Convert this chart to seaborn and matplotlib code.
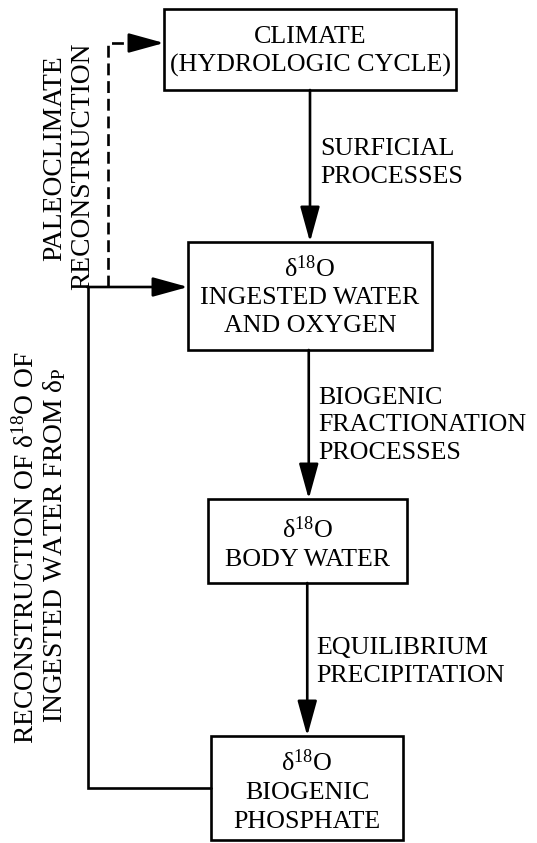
"""Flow diagram of oxygen isotope pathways into biogenic phosphate."""

import matplotlib
matplotlib.use("Agg")
import matplotlib.pyplot as plt
import seaborn as sns
from matplotlib.patches import Rectangle

sns.set_theme(style="white")
plt.rcParams["font.family"] = ["Liberation Serif", "DejaVu Serif"]
plt.rcParams["mathtext.fontset"] = "custom"
plt.rcParams["mathtext.rm"] = "Liberation Serif"
plt.rcParams["mathtext.it"] = "Liberation Serif:italic"

# --- diagram content ---
box_labels = [
    ["CLIMATE", "(HYDROLOGIC CYCLE)"],
    ["δ$^{18}$O", "INGESTED WATER", "AND OXYGEN"],
    ["δ$^{18}$O", "BODY WATER"],
    ["δ$^{18}$O", "BIOGENIC", "PHOSPHATE"],
]
step_labels = [
    ["SURFICIAL", "PROCESSES"],
    ["BIOGENIC", "FRACTIONATION", "PROCESSES"],
    ["EQUILIBRIUM", "PRECIPITATION"],
]
paleo_label = ["PALEOCLIMATE", "RECONSTRUCTION"]
recon_label = ["RECONSTRUCTION OF δ$^{18}$O OF", "INGESTED WATER FROM δ$_{\\mathrm{P}}$"]

# --- layout (pixel coordinates, y downwards) ---
box_left = [164, 188, 208, 211]
box_right = [456, 432, 407, 403]
box_top = [9, 242, 499, 736]
box_bottom = [90, 350, 583, 840]
box_line_y = [[37, 65], [269, 298, 326], [530, 560], [763, 793, 822]]
step_x = [320, 318, 316]
step_line_y = [[149, 177], [398, 425, 453], [648, 676]]
feedback_x = 88
dashed_x = 108
feedback_y_low = 788
feedback_y_high = 287
dashed_y_top = 43

FONT = 18.7
SIDE_FONT = 19.8
LW = 1.9
INK = "black"

fig = plt.figure(figsize=(5.37, 8.43), dpi=100)
ax = fig.add_axes([0, 0, 1, 1])
ax.set_xlim(0, 537)
ax.set_ylim(843, 0)
ax.axis("off")

arrow_kw = dict(arrowstyle="-|>,head_length=1.45,head_width=0.4",
                color=INK, lw=LW, mutation_scale=15, shrinkA=0, shrinkB=0)

# boxes and their labels
for left, right, top, bottom, lines, ys in zip(box_left, box_right, box_top,
                                               box_bottom, box_labels, box_line_y):
    ax.add_patch(Rectangle((left, top), right - left, bottom - top,
                           fill=False, edgecolor=INK, lw=LW))
    cx = (left + right) / 2
    for text, y in zip(lines, ys):
        ax.text(cx, y, text, ha="center", va="center", fontsize=FONT, color=INK)

# downward arrows between boxes
for i in range(3):
    x = (box_left[i + 1] + box_right[i + 1]) / 2 + (box_left[i] + box_right[i]) / 2
    x = x / 2
    ax.annotate("", xy=(x, box_top[i + 1]), xytext=(x, box_bottom[i]),
                arrowprops=arrow_kw)
    for text, y in zip(step_labels[i], step_line_y[i]):
        ax.text(step_x[i], y, text, ha="left", va="center", fontsize=FONT, color=INK)

# feedback path: phosphate -> ingested water
ax.plot([box_left[3], feedback_x, feedback_x],
        [feedback_y_low, feedback_y_low, feedback_y_high],
        color=INK, lw=LW, solid_joinstyle="miter")
ax.annotate("", xy=(box_left[1], feedback_y_high),
            xytext=(feedback_x - LW / 2, feedback_y_high), arrowprops=arrow_kw)

# dashed path: paleoclimate reconstruction
ax.plot([dashed_x, dashed_x, box_left[0] - 22],
        [feedback_y_high, dashed_y_top, dashed_y_top],
        color=INK, lw=LW, dashes=(4.5, 2.2))
ax.annotate("", xy=(box_left[0], dashed_y_top),
            xytext=(box_left[0] - 24, dashed_y_top), arrowprops=arrow_kw)

# rotated side labels
for text, x, y in zip(paleo_label, [55, 83], [158, 166]):
    ax.text(x, y, text, rotation=90, ha="center", va="center",
            fontsize=SIDE_FONT, color=INK)
for text, x, y in zip(recon_label, [26, 55], [548, 545]):
    ax.text(x, y, text, rotation=90, ha="center", va="center",
            fontsize=SIDE_FONT, color=INK)

fig.savefig("out.png", dpi=100, facecolor="white")
plt.close(fig)
